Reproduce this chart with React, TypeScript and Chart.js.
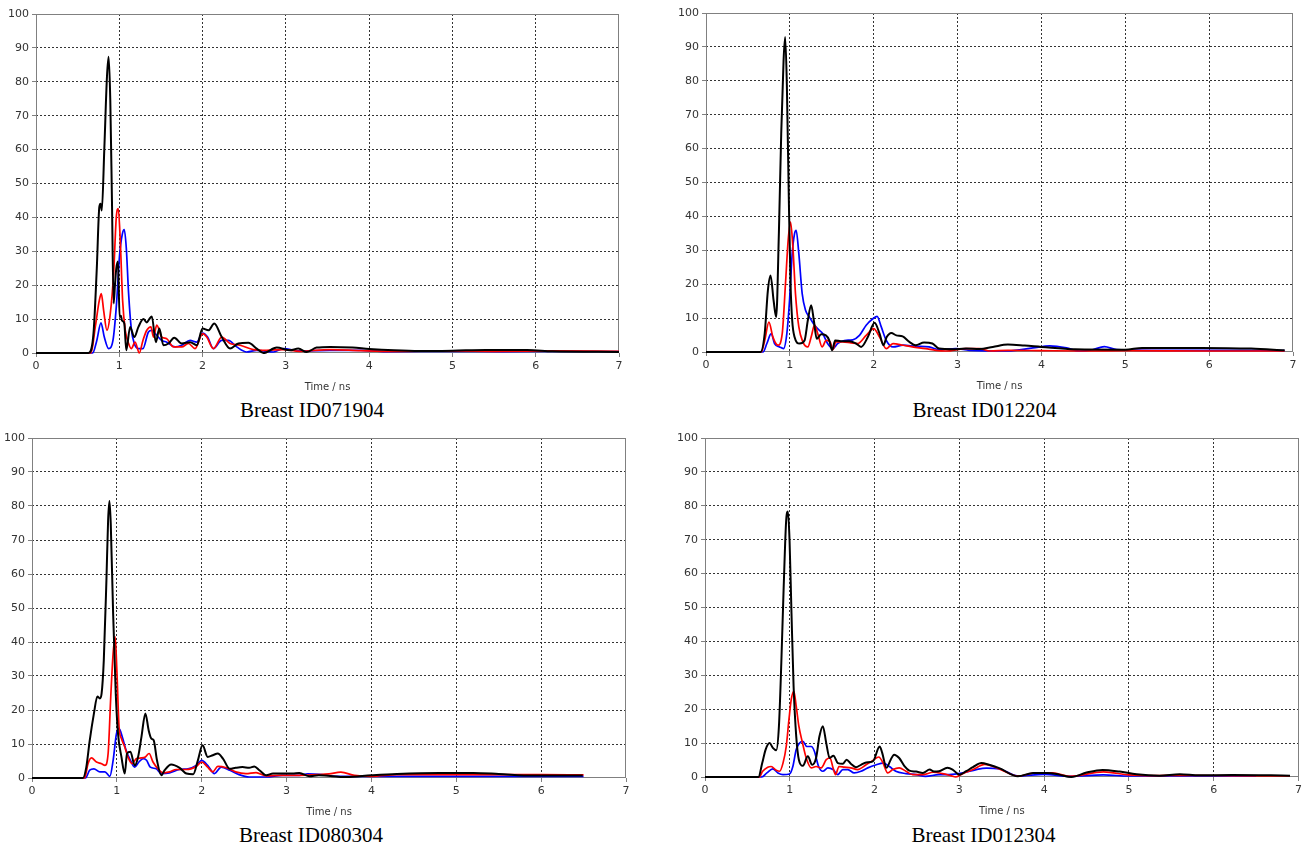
import React, { useEffect, useRef } from 'react';
import { Chart, registerables } from 'chart.js';

Chart.register(...registerables);

type Pt = [number, number];

// ---------- axis ticks ----------
const xTickValues: number[] = [0, 1, 2, 3, 4, 5, 6, 7];
const yTickValues: number[] = [0, 10, 20, 30, 40, 50, 60, 70, 80, 90, 100];
const xAxisTitle = 'Time / ns';

// ---------- captions ----------
const captions: string[] = ['Breast ID071904', 'Breast ID012204', 'Breast ID080304', 'Breast ID012304'];

// ---------- Breast ID071904 ----------
const c1Black: Pt[] = [[0,0],[0.63,0],[0.69,5.7],[0.73,25],[0.76,43],[0.775,44],[0.79,42],[0.82,60],[0.852,81.5],[0.872,87.4],[0.892,74.6],[0.912,45],[0.932,14.6],[0.948,20],[0.964,25],[0.984,27],[1.004,10.6],[1.02,11],[1.032,9.6],[1.06,8.7],[1.084,0.8],[1.13,7.7],[1.18,4.7],[1.23,7.7],[1.29,10],[1.33,9],[1.36,10],[1.39,10.8],[1.44,3.2],[1.48,7.2],[1.53,2.3],[1.59,2.8],[1.66,4.5],[1.75,2.8],[1.85,3.2],[1.93,2.3],[2.0,7.2],[2.07,6.7],[2.14,8.7],[2.23,4.7],[2.33,1.3],[2.43,2.8],[2.55,3],[2.65,1.3],[2.73,0],[2.89,1.6],[3.05,0.8],[3.15,1.3],[3.25,0.3],[3.37,1.6],[3.53,1.8],[3.8,1.6],[4.0,1.2],[4.3,0.8],[4.6,0.6],[5.0,0.7],[5.4,0.9],[5.9,0.9],[6.2,0.5],[7.0,0.3]];
const c1Red: Pt[] = [[0,0],[0.66,0],[0.712,7.7],[0.76,15.5],[0.784,17.5],[0.812,12.6],[0.852,6.7],[0.892,11.6],[0.932,23.4],[0.964,40],[0.988,42.6],[1.012,33],[1.04,15.5],[1.072,6.7],[1.112,2.8],[1.144,1.3],[1.19,3.2],[1.24,0],[1.284,3.7],[1.33,6.7],[1.38,7.7],[1.41,4.7],[1.45,8.2],[1.51,4.7],[1.57,4.2],[1.65,1.8],[1.75,1.8],[1.83,2.8],[1.91,1.3],[2.0,5.7],[2.05,4.7],[2.13,1.3],[2.23,4.7],[2.33,2.8],[2.45,2.3],[2.61,1],[2.77,0.8],[2.97,1],[3.17,0.5],[3.53,1],[3.9,0.7],[4.3,0.5],[5.0,0.6],[5.5,0.5],[6.2,0.6],[7.0,0.5]];
const c1Blue: Pt[] = [[0,0],[0.68,0],[0.73,3.7],[0.78,8.9],[0.82,4.7],[0.872,1.3],[0.924,3.7],[0.964,13.6],[1.004,29],[1.036,35],[1.06,36.4],[1.084,31],[1.112,17.5],[1.144,7.2],[1.18,2.8],[1.23,1.3],[1.284,1.3],[1.35,6.2],[1.39,6.7],[1.45,5.2],[1.51,3.7],[1.57,3.2],[1.67,1.8],[1.75,2.3],[1.85,3.7],[1.93,3.2],[2.0,5.9],[2.06,4.7],[2.13,1.3],[2.23,3.7],[2.31,3.7],[2.41,1.8],[2.53,0.3],[2.65,0.8],[2.85,0.3],[2.97,1.3],[3.17,0.6],[3.53,0.8],[3.9,0.8],[4.2,0.4],[5.0,0.5],[5.6,0.4],[6.3,0.5],[7.0,0.4]];

// ---------- Breast ID012204 ----------
const c2Black: Pt[] = [[0,0],[0.65,0],[0.70,5.4],[0.738,18.2],[0.77,22.6],[0.806,15.2],[0.837,10.3],[0.869,35],[0.897,64.4],[0.925,86],[0.944,92.9],[0.964,79],[0.988,44.7],[1.008,20.2],[1.028,9.3],[1.056,4.4],[1.115,2.5],[1.175,3.4],[1.214,9.3],[1.254,13.8],[1.286,9.3],[1.32,3.9],[1.373,5.2],[1.43,4.9],[1.47,3.4],[1.504,0.5],[1.54,3.4],[1.61,3.2],[1.71,3.2],[1.79,2.5],[1.85,1.5],[1.93,4.4],[2.01,8.6],[2.07,5.4],[2.115,2],[2.155,4.4],[2.21,5.6],[2.27,4.9],[2.345,4.6],[2.425,3],[2.5,2],[2.6,2.8],[2.7,2.5],[2.78,1],[2.94,0.8],[3.1,1],[3.26,0.9],[3.42,1.5],[3.6,2.2],[3.8,1.9],[4.0,1.5],[4.4,0.8],[5.0,0.7],[5.2,1.2],[5.9,1.2],[6.5,1.0],[6.9,0.5]];
const c2Red: Pt[] = [[0,0],[0.66,0],[0.70,3.4],[0.75,8.8],[0.798,4.4],[0.857,2],[0.909,5.4],[0.948,20.2],[0.98,33],[1.008,38.3],[1.036,31],[1.067,17.2],[1.107,7.4],[1.155,3],[1.214,1.5],[1.254,4.4],[1.294,7.9],[1.333,5.4],[1.385,1.5],[1.433,3.4],[1.48,3],[1.512,0.7],[1.55,3],[1.63,3],[1.73,2.7],[1.81,2.5],[1.91,4.9],[2.0,6.9],[2.07,4.4],[2.15,1],[2.23,2.5],[2.35,2],[2.46,1.5],[2.62,1],[2.74,0.5],[2.86,0.3],[3.1,1],[3.26,1],[3.38,0.3],[3.6,0.5],[4.0,0.4],[4.5,0.3],[5.0,0.4],[6.0,0.3],[6.9,0.3]];
const c2Blue: Pt[] = [[0,0],[0.68,0],[0.726,2.5],[0.778,5.4],[0.817,2.5],[0.877,1.5],[0.925,1],[0.964,5.4],[0.996,15.2],[1.028,29],[1.056,34.9],[1.075,35.9],[1.107,29],[1.147,17.2],[1.187,12.3],[1.234,10.3],[1.294,7.9],[1.353,6.4],[1.393,5.4],[1.45,2.5],[1.512,1],[1.57,2.5],[1.65,3.4],[1.75,3.6],[1.83,4.9],[1.91,7.9],[1.99,9.8],[2.04,10.5],[2.09,7.4],[2.15,3.4],[2.23,1.5],[2.35,2],[2.5,1.7],[2.66,1.5],[2.78,0.7],[2.98,1],[3.14,0.5],[3.6,0.3],[3.9,1.2],[4.1,1.8],[4.3,1.2],[4.45,0.3],[4.6,0.6],[4.75,1.6],[4.9,0.7],[5.5,0.5],[6.5,0.5],[6.9,0.4]];

// ---------- Breast ID080304 ----------
const c3Black: Pt[] = [[0,0],[0.6,0],[0.64,3.2],[0.68,11],[0.73,19],[0.77,24],[0.8,23.4],[0.82,24.8],[0.846,34.6],[0.877,58.2],[0.897,75.9],[0.913,81.5],[0.928,74.9],[0.956,48.4],[0.987,24.8],[1.014,13],[1.054,6.2],[1.093,1.3],[1.12,7.2],[1.16,7.7],[1.21,3.7],[1.25,6.2],[1.29,12.1],[1.336,19],[1.375,14],[1.406,11.6],[1.434,11.1],[1.473,5.2],[1.524,0.8],[1.563,2.3],[1.64,4],[1.74,3],[1.82,1.3],[1.9,1.1],[1.955,5.2],[2.01,9.6],[2.07,6.2],[2.13,6.7],[2.19,7.2],[2.25,5.7],[2.33,2.7],[2.4,3],[2.48,3.2],[2.56,3],[2.62,3.4],[2.68,2.3],[2.76,0.8],[2.84,1.3],[2.95,1.3],[3.07,1.3],[3.15,1.5],[3.27,0.5],[3.38,0.8],[3.7,0.3],[4.0,0.8],[4.3,1.2],[4.8,1.5],[5.2,1.5],[5.5,1.2],[5.9,0.7],[6.49,0.7]];
const c3Red: Pt[] = [[0,0],[0.62,0],[0.66,4.2],[0.70,5.9],[0.76,4.7],[0.82,4.2],[0.86,3.7],[0.897,7.2],[0.928,23.8],[0.956,36.6],[0.98,41.5],[1.0,31.7],[1.026,15],[1.054,11.6],[1.093,9.1],[1.13,6.2],[1.18,4.2],[1.23,5.7],[1.29,5.9],[1.336,6.2],[1.38,7.2],[1.426,4.7],[1.485,2.7],[1.543,1.5],[1.62,1.8],[1.70,2.5],[1.82,2.5],[1.935,3.4],[2.0,4.7],[2.07,3.2],[2.13,1.8],[2.19,3.4],[2.29,3],[2.40,1.8],[2.52,1.3],[2.64,1.6],[2.76,0.6],[2.91,0.8],[3.15,0.8],[3.38,1],[3.5,1.2],[3.64,1.7],[3.8,0.8],[4.0,0.5],[4.3,1.0],[5.0,1.0],[6.0,1.0],[6.5,0.9]];
const c3Blue: Pt[] = [[0,0],[0.63,0],[0.68,2.3],[0.73,2.7],[0.8,1.8],[0.86,1.8],[0.917,0.5],[0.956,5.2],[0.995,13],[1.026,14.5],[1.065,12],[1.11,8.1],[1.16,5.2],[1.21,3.2],[1.26,4.7],[1.31,5.7],[1.35,5.2],[1.394,3.2],[1.465,2.7],[1.524,1.3],[1.62,1.5],[1.74,2.5],[1.84,2.7],[1.935,3.7],[2.0,5.2],[2.07,3.7],[2.15,1.3],[2.23,3.2],[2.33,2.3],[2.44,1],[2.56,0.3],[2.76,0.3],[2.95,0.8],[3.15,0.8],[3.25,1.2],[3.38,1.1],[3.6,0.5],[4.0,0.5],[4.5,0.5],[5.0,0.5],[6.0,0.5],[6.5,0.5]];

// ---------- Breast ID012304 ----------
const c4Black: Pt[] = [[0,0],[0.63,0],[0.675,4.1],[0.715,8.1],[0.762,10],[0.8,8.6],[0.84,7.9],[0.872,15],[0.9,33.6],[0.927,55.2],[0.958,75.9],[0.978,78.3],[0.997,70],[1.02,48.4],[1.045,26.7],[1.076,12],[1.107,5.1],[1.154,3.3],[1.213,6.1],[1.264,3.6],[1.31,5.6],[1.35,12],[1.39,15],[1.43,10],[1.47,5.6],[1.515,6.3],[1.567,4.1],[1.625,3.9],[1.67,5.1],[1.72,3.9],[1.78,2.9],[1.84,3.6],[1.9,4.3],[1.98,4.6],[2.06,9],[2.09,7.1],[2.14,2.7],[2.19,5.1],[2.23,6.6],[2.29,5.6],[2.35,3.3],[2.41,1.9],[2.49,1.6],[2.57,1.2],[2.65,2.2],[2.7,1.6],[2.76,1.7],[2.86,2.7],[2.92,2.2],[3.0,0.7],[3.08,1.7],[3.16,2.9],[3.26,4.1],[3.35,3.6],[3.47,2.6],[3.69,0.2],[3.87,1.2],[4.04,1.2],[4.18,0.7],[4.32,0],[4.5,1.3],[4.69,2.1],[4.89,1.6],[5.09,0.8],[5.36,0.4],[5.6,0.8],[5.83,0.5],[6.22,0.6],[6.9,0.4]];
const c4Red: Pt[] = [[0,0],[0.64,0],[0.68,1.7],[0.74,2.9],[0.78,3.1],[0.84,2],[0.88,1.7],[0.92,4.1],[0.958,9],[0.99,16.9],[1.017,22.8],[1.048,25.3],[1.076,20.8],[1.107,15],[1.146,10.5],[1.194,5.6],[1.253,2.7],[1.31,3.1],[1.37,2.7],[1.43,5.1],[1.475,5.6],[1.51,2.7],[1.54,0.7],[1.58,3.1],[1.645,2.9],[1.72,2.7],[1.8,2.2],[1.9,3.6],[1.98,4.9],[2.05,5.9],[2.1,4.1],[2.155,1.2],[2.215,2.2],[2.29,2.7],[2.37,1.7],[2.45,0.7],[2.57,0.7],[2.69,1.4],[2.8,1],[2.9,0.4],[2.96,0],[3.04,1],[3.16,2.2],[3.3,3.7],[3.47,2.4],[3.69,0.3],[3.9,1.2],[4.1,1.2],[4.3,0.2],[4.7,1.5],[5.0,0.6],[5.3,0.4],[5.6,0.5],[6.2,0.4],[6.9,0.3]];
const c4Blue: Pt[] = [[0,0],[0.67,0],[0.73,1.2],[0.8,2.4],[0.86,1.2],[0.92,0.7],[0.997,0.9],[1.036,3.1],[1.076,8.1],[1.115,10],[1.154,10.5],[1.2,9],[1.253,9],[1.29,7.6],[1.34,3.1],[1.39,1.7],[1.45,2.7],[1.51,2.2],[1.567,0.7],[1.625,2.2],[1.685,2.2],[1.76,1.2],[1.84,1.7],[1.92,2.7],[2.02,3.6],[2.1,4.1],[2.175,3.1],[2.25,1.7],[2.37,1],[2.49,0.7],[2.6,0.2],[2.76,0.7],[2.88,0.7],[3.04,1.2],[3.2,2.2],[3.32,2.6],[3.47,2.4],[3.69,0.3],[4.0,0.8],[4.3,0.2],[4.7,0.6],[5.0,0.3],[6.0,0.3],[6.5,0.3]];

// ---------- layout (positions, sizes) ----------
interface PanelLayout {
  left: number; top: number; width: number; height: number;
  yAxisWidth: number; rightPad: number;
  captionX: number; captionTop: number;
}
const layouts: PanelLayout[] = [
  { left: 0, top: 4, width: 629, height: 391, yAxisWidth: 36, rightPad: 10, captionX: 312, captionTop: 398 },
  { left: 670, top: 3, width: 633, height: 391, yAxisWidth: 36, rightPad: 10, captionX: 984.5, captionTop: 398 },
  { left: 0, top: 428, width: 636, height: 392, yAxisWidth: 32, rightPad: 10, captionX: 311, captionTop: 823 },
  { left: 669, top: 428, width: 636, height: 391, yAxisWidth: 36, rightPad: 6, captionX: 983.5, captionTop: 823 },
];
const seriesSets: Pt[][][] = [
  [c1Black, c1Red, c1Blue],
  [c2Black, c2Red, c2Blue],
  [c3Black, c3Red, c3Blue],
  [c4Black, c4Red, c4Blue],
];

const SERIES_COLORS = ['#000000', '#ff0000', '#0000ff'];
const SERIES_WIDTHS = [2, 1.7, 1.7];
const AXIS_GRAY = '#808080';
const GRID_COLOR = '#333333';
const TICK_FONT = { family: '"DejaVu Sans", Verdana, sans-serif', size: 11 };

const framePlugin = {
  id: 'frame',
  beforeDatasetsDraw(chart: any) {
    const { ctx, chartArea } = chart;
    const l = Math.round(chartArea.left) + 0.5;
    const t = Math.round(chartArea.top) + 0.5;
    const r = Math.round(chartArea.right) - 0.5;
    const b = Math.round(chartArea.bottom) - 0.5;
    ctx.save();
    ctx.strokeStyle = AXIS_GRAY;
    ctx.lineWidth = 1;
    ctx.setLineDash([]);
    ctx.strokeRect(l, t, r - l, b - t);
    ctx.restore();
  },
};

function Panel({ layout, series }: { layout: PanelLayout; series: Pt[][] }) {
  const ref = useRef<HTMLCanvasElement>(null);
  useEffect(() => {
    if (!ref.current) return;
    const xMin = xTickValues[0];
    const xMax = xTickValues[xTickValues.length - 1];
    const yMin = yTickValues[0];
    const yMax = yTickValues[yTickValues.length - 1];
    const gridColor = (c: any) => {
      const v = c.tick ? c.tick.value : null;
      return v === xMin || v === xMax || v === yMin || v === yMax ? 'rgba(0,0,0,0)' : GRID_COLOR;
    };
    const chart = new Chart(ref.current, {
      type: 'line',
      data: {
        datasets: series.map((s, i) => ({
          data: s.map(([x, y]) => ({ x, y })),
          borderColor: SERIES_COLORS[i],
          borderWidth: SERIES_WIDTHS[i],
          pointRadius: 0,
          fill: false,
          cubicInterpolationMode: 'monotone' as const,
          clip: 4,
        })),
      },
      options: {
        animation: false,
        responsive: false,
        maintainAspectRatio: false,
        devicePixelRatio: 1,
        layout: { padding: { top: 10, right: layout.rightPad, left: 0, bottom: 0 } },
        plugins: { legend: { display: false }, tooltip: { enabled: false }, title: { display: false } },
        scales: {
          x: {
            type: 'linear',
            min: xMin,
            max: xMax,
            afterBuildTicks: (s: any) => { s.ticks = xTickValues.map((v) => ({ value: v })); },
            ticks: { stepSize: 1, color: '#333333', font: TICK_FONT, padding: 3, maxRotation: 0 },
            grid: { color: gridColor, lineWidth: 1, tickColor: AXIS_GRAY, tickLength: 4, tickBorderDash: [] },
            border: { display: false, dash: [2, 2] },
            title: { display: true, text: xAxisTitle, color: '#333333', font: { family: '"DejaVu Sans", Verdana, sans-serif', size: 10 }, padding: { top: 0, bottom: 2 } },
            afterFit: (s: any) => { s.height = 42; },
          },
          y: {
            type: 'linear',
            min: yMin,
            max: yMax,
            afterBuildTicks: (s: any) => { s.ticks = yTickValues.map((v) => ({ value: v })); },
            ticks: { stepSize: 10, color: '#333333', font: TICK_FONT, padding: 3 },
            grid: { color: gridColor, lineWidth: 1, tickColor: AXIS_GRAY, tickLength: 4, tickBorderDash: [] },
            border: { display: false, dash: [2, 2] },
            afterFit: (s: any) => { s.width = layout.yAxisWidth; },
          },
        },
      } as any,
      plugins: [framePlugin],
    });
    return () => chart.destroy();
  }, []);
  return (
    <canvas
      ref={ref}
      width={layout.width}
      height={layout.height}
      style={{ position: 'absolute', left: layout.left, top: layout.top, width: layout.width, height: layout.height }}
    />
  );
}

export default function App() {
  return (
    <div style={{ position: 'absolute', left: 0, top: 0, width: 1307, height: 846, overflow: 'hidden', background: '#ffffff' }}>
      {layouts.map((l, i) => (
        <React.Fragment key={i}>
          <Panel layout={l} series={seriesSets[i]} />
          <div
            style={{
              position: 'absolute',
              left: l.captionX - 150,
              top: l.captionTop,
              width: 300,
              textAlign: 'center',
              fontFamily: '"Liberation Serif", "Times New Roman", serif',
              fontSize: 21,
              lineHeight: '24px',
              color: '#000',
            }}
          >
            {captions[i]}
          </div>
        </React.Fragment>
      ))}
    </div>
  );
}
